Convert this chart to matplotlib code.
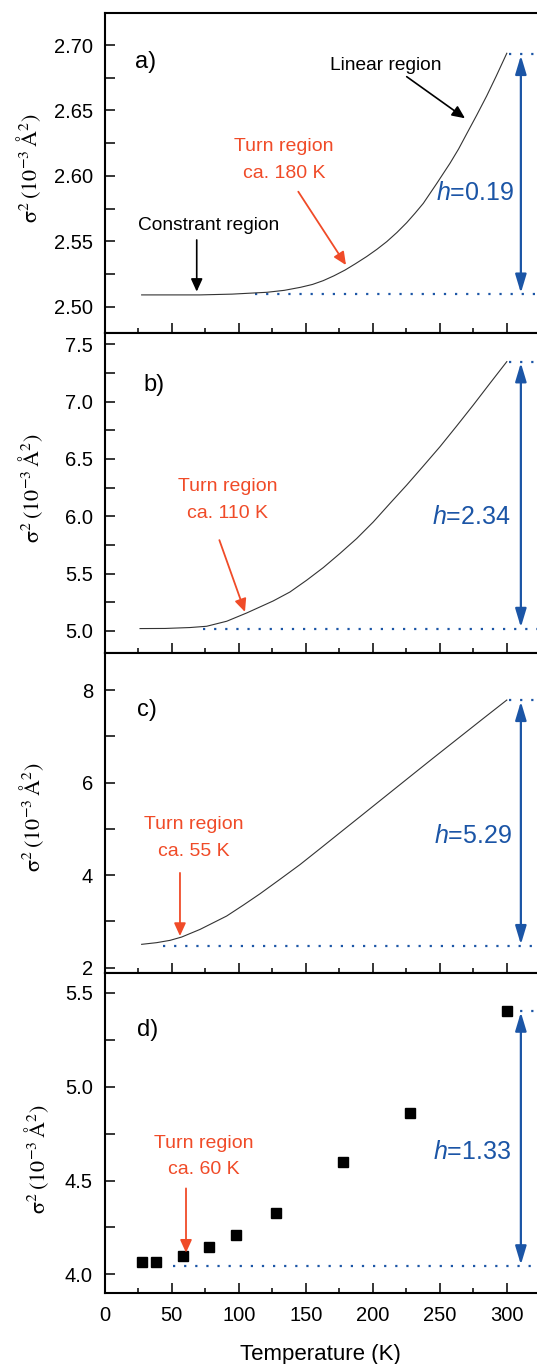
import matplotlib
matplotlib.use('Agg')
import matplotlib.pyplot as plt
from matplotlib.ticker import MultipleLocator, FormatStrFormatter

plt.rcParams['font.family'] = ['Liberation Sans', 'DejaVu Sans']
plt.rcParams['mathtext.fontset'] = 'custom'
plt.rcParams['mathtext.it'] = 'Liberation Sans:italic'
plt.rcParams['mathtext.rm'] = 'Liberation Sans'

RED = '#f04b28'
BLUE = '#1b55a6'

# panel a) model curve (read off the picture)
T_a = [27.5, 71, 95, 121, 134, 146, 155, 163, 171, 179.3, 187, 195.4, 203, 210.4,
       218, 225.3, 231.5, 237.7, 247.6, 257.6, 264, 270, 277.5, 285, 292, 300]
s_a = [2.509, 2.509, 2.5096, 2.511, 2.5125, 2.5148, 2.517, 2.5199, 2.5236, 2.528,
       2.5328, 2.5383, 2.5438, 2.5497, 2.5567, 2.5642, 2.5714, 2.579, 2.594, 2.6096,
       2.6205, 2.632, 2.6463, 2.6611, 2.676, 2.6937]
# panel b) model curve
T_b = [26.3, 45, 63.6, 76, 91, 105.9, 125.7, 138.2, 150.7, 163.1, 175.5, 188, 200.4,
       212.8, 225.3, 237.7, 250.1, 262.6, 275, 287.5, 300]
s_b = [5.021, 5.022, 5.03, 5.041, 5.085, 5.157, 5.262, 5.34, 5.443, 5.553, 5.676,
       5.806, 5.951, 6.112, 6.272, 6.438, 6.606, 6.787, 6.97, 7.16, 7.348]
# panel c) model curve
T_c = [27.5, 38.7, 48.7, 57.4, 71.1, 90.9, 103.4, 115.8, 130.8, 145.7, 160.6, 175.5,
       190.5, 202.9, 216.6, 230.3, 245.2, 260.1, 272.5, 282.5, 300]
s_c = [2.503, 2.539, 2.589, 2.661, 2.826, 3.114, 3.351, 3.595, 3.91, 4.227, 4.570,
       4.916, 5.263, 5.551, 5.869, 6.187, 6.532, 6.873, 7.157, 7.386, 7.783]
# panel d) measured points
T_d = [28, 38, 58, 78, 98, 128, 178, 228, 300]
s_d = [4.067, 4.067, 4.098, 4.147, 4.208, 4.327, 4.600, 4.861, 5.401]

# baseline / top level and h labels
base = [2.5094, 5.02, 2.47, 4.044]
top = [2.693, 7.349, 7.78, 5.404]
base_start = [112, 73.5, 43.7, 51]
hlab = ['0.19', '2.34', '5.29', '1.33']
letters = ['a)', 'b)', 'c)', 'd)']
turn_txt = ['Turn region\nca. 180 K', 'Turn region\nca. 110 K',
            'Turn region\nca. 55 K', 'Turn region\nca. 60 K']

fig = plt.figure(figsize=(5.37, 13.64), dpi=100)

left = 104.8 / 537
h_ax = 320.15 / 1364
bot0 = 1 - 1293.3 / 1364
XMAX = (537 - 104.8) / 1.34

ylims = [(2.48, 2.7247), (4.808, 7.599), (1.88, 8.80), (3.899, 5.605)]
ymaj = [0.05, 0.5, 2, 0.5]
ymin = [0.025, 0.25, 1, 0.25]
yfmt = ['%.2f', '%.1f', '%d', '%.1f']

letter_pos = [(22.5, 2.687), (28.8, 7.145), (23.8, 7.567), (24, 5.301)]
turn_pos = [(133.7, 2.6124), (91.4, 6.141), (66.3, 4.80), (73.9, 4.628)]
turn_arrow = [((144.4, 2.5879), (180, 2.5318)), ((85.5, 5.792), (104.6, 5.166)),
              ((56.1, 4.047), (56.1, 2.682)), ((60.6, 4.458), (60.6, 4.115))]
h_pos = [(276.3, 2.5866), (273.8, 5.995), (275, 4.838), (274, 4.653)]
label_coords = [(-0.1435, 0.515), (-0.1395, 0.516), (-0.1356, 0.486), (-0.1245, 0.42)]

axs = []
for i in range(4):
    ax = fig.add_axes([left, bot0 + (3 - i) * h_ax, 1 - left, h_ax])
    axs.append(ax)
    ax.set_xlim(0, XMAX)
    ax.set_ylim(ylims[i])
    ax.spines['right'].set_visible(False)
    for s in ['left', 'top', 'bottom']:
        ax.spines[s].set_linewidth(1.5)
    ax.xaxis.set_major_locator(MultipleLocator(50))
    ax.xaxis.set_minor_locator(MultipleLocator(25))
    ax.yaxis.set_major_locator(MultipleLocator(ymaj[i]))
    ax.yaxis.set_minor_locator(MultipleLocator(ymin[i]))
    ax.yaxis.set_major_formatter(FormatStrFormatter(yfmt[i]))
    ax.tick_params(axis='both', which='both', direction='in', width=1.1,
                   labelsize=14.5, top=False, right=False)
    ax.tick_params(axis='x', which='major', length=7.2, pad=9)
    ax.tick_params(axis='x', which='minor', length=3.6)
    ax.tick_params(axis='y', which='both', length=7.2, pad=8.5)
    if i < 3:
        ax.tick_params(axis='x', labelbottom=False)

    ax.set_ylabel(r'$\mathrm{σ}^2\,(10^{-3}\,\mathrm{Å}^2)$', fontsize=16,
                  math_fontfamily='stix')
    ax.yaxis.set_label_coords(*label_coords[i])

    # baseline and top level, dotted
    ax.plot([base_start[i], XMAX], [base[i], base[i]], color=BLUE, lw=1.6,
            linestyle=(0, (1, 4)))
    ax.plot([300 + 2, XMAX], [top[i], top[i]], color=BLUE, lw=1.6,
            linestyle=(0, (1, 4)))
    ax.annotate('', xy=(310.5, top[i]), xytext=(310.5, base[i]),
                arrowprops=dict(arrowstyle='<|-|>,head_length=0.8,head_width=0.24',
                                color=BLUE, lw=1.6, mutation_scale=14,
                                shrinkA=1, shrinkB=1))
    ax.text(h_pos[i][0], h_pos[i][1], '$h$=' + hlab[i], color=BLUE, fontsize=18,
            ha='center', va='center')

    ax.text(letter_pos[i][0], letter_pos[i][1], letters[i], fontsize=17,
            ha='left', va='center')
    ax.text(turn_pos[i][0], turn_pos[i][1], turn_txt[i], color=RED, fontsize=14,
            ha='center', va='center', linespacing=1.75, multialignment='center')
    (x0, y0), (x1, y1) = turn_arrow[i]
    ax.annotate('', xy=(x1, y1), xytext=(x0, y0),
                arrowprops=dict(arrowstyle='-|>,head_length=0.55,head_width=0.25',
                                color=RED, lw=1.3, mutation_scale=14,
                                shrinkA=0, shrinkB=0))

axs[0].plot(T_a, s_a, color='#333333', lw=0.8)
axs[1].plot(T_b, s_b, color='#333333', lw=0.8)
axs[2].plot(T_c, s_c, color='#333333', lw=0.8)
axs[3].plot(T_d, s_d, 's', color='black', ms=7.2)

# extra labels in panel a
ax = axs[0]
ax.text(209.6, 2.6847, 'Linear region', fontsize=13.8, ha='center', va='center')
ax.annotate('', xy=(268.8, 2.644), xytext=(225.3, 2.6758),
            arrowprops=dict(arrowstyle='-|>,head_length=0.55,head_width=0.25',
                            color='black', lw=1.2, mutation_scale=14, shrinkA=0, shrinkB=0))
ax.text(77.8, 2.5624, 'Constrant region', fontsize=13.8, ha='center', va='center')
ax.annotate('', xy=(68.6, 2.5115), xytext=(68.6, 2.551),
            arrowprops=dict(arrowstyle='-|>,head_length=0.55,head_width=0.25',
                            color='black', lw=1.2, mutation_scale=14, shrinkA=0, shrinkB=0))

axs[3].set_xlabel('Temperature (K)', fontsize=16, labelpad=14)

fig.savefig('out.png', dpi=100)
